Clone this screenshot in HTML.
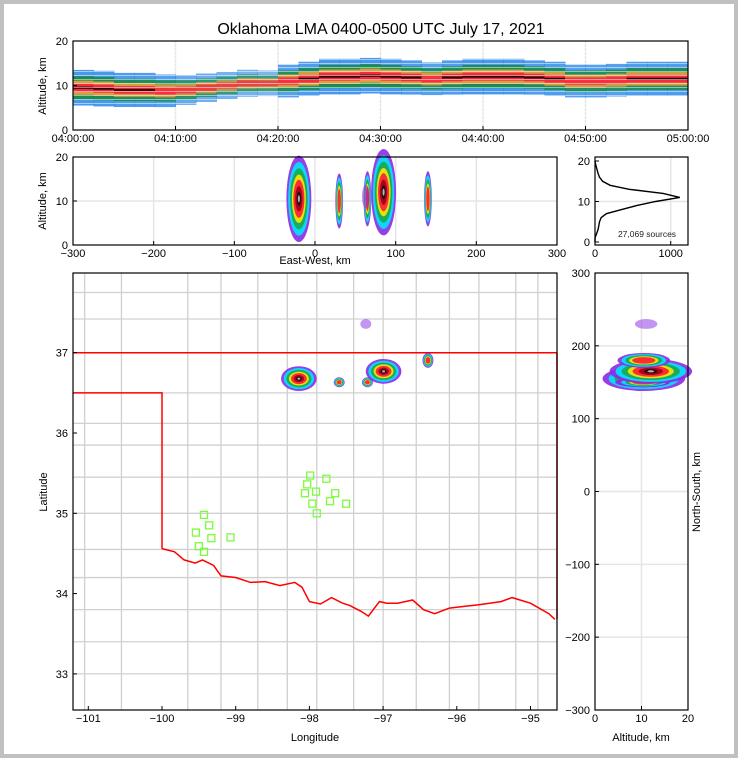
<!DOCTYPE html>
<html><head><meta charset="utf-8"><style>
html,body{margin:0;padding:0;background:#c0c0c0;}
#wrap{position:absolute;left:4px;top:4px;width:730px;height:750px;background:#fff;}
svg{position:absolute;left:0;top:0;font-family:"Liberation Sans","DejaVu Sans",sans-serif;}
</style></head><body>
<div id="wrap"></div>
<svg id="fig" width="738" height="758">
<defs>
<pattern id="dash" width="6" height="4" patternUnits="userSpaceOnUse"><rect x="0" y="3" width="6" height="1" fill="#fff" opacity="0.5"/></pattern>
</defs>
<text x="381" y="34" font-size="16" text-anchor="middle" fill="#000">Oklahoma LMA 0400-0500 UTC July 17, 2021</text>
</svg>
<script>
// ---------- data ----------
const timeMinutes = [0,2,4,6,8,10,12,14,16,18,20,22,24,26,28,30,32,34,36,38,40,42,44,46,48,50,52,54,56,58];
const medianAlt   = [9.5,9.3,9.0,9.0,8.8,9.0,9.5,10,10.5,10.5,11,11.5,12,12,12.2,12,11.8,11.5,11.8,12,12,12,11.8,11.5,11,11,11.2,11.5,11.5,11.5];
const activity    = [1,1,0.9,0.9,0.8,0.6,0.5,0.4,0.4,0.3,0.8,0.9,1,1,1,1,0.9,0.8,0.9,1,1,1,0.9,0.9,0.8,0.8,0.8,0.9,0.9,0.9];
const timeTickLabels = ["04:00:00","04:10:00","04:20:00","04:30:00","04:40:00","04:50:00","05:00:00"];
const histAlt    = [0,1,2,3,4,5,6,7,8,9,10,11,12,13,14,15,16,17,18,19,20];
const histCounts = [0,0,20,40,50,60,80,150,350,550,800,1120,900,450,200,100,60,40,25,10,0];
const stormEW  = [-20,30,65,85,140,63];
const stormNS  = [155,150,150,165,180,230];
const stormAlt = [10.5,10,10.5,12,10.5,11];
const stormSX  = [13,4,4,13,4,4];
const stormSY  = [10,4,4,10,6,4];
const stormSA  = [5.5,3.5,3.5,5.5,3.5,1.5];
const stormW   = [1,0.35,0.35,1,0.3,0.05];
const stationLon = [-99.43,-99.36,-99.54,-99.33,-99.50,-99.43,-99.07,-97.99,-98.03,-97.77,-98.06,-97.91,-97.65,-97.96,-97.72,-97.50,-97.90];
const stationLat = [34.98,34.85,34.76,34.69,34.59,34.52,34.70,35.47,35.36,35.43,35.25,35.27,35.25,35.12,35.15,35.12,35.00];
const redRiverLon = [-100,-99.83,-99.7,-99.55,-99.45,-99.3,-99.2,-99.0,-98.8,-98.6,-98.4,-98.2,-98.1,-98.0,-97.85,-97.7,-97.55,-97.45,-97.3,-97.2,-97.05,-96.95,-96.8,-96.6,-96.45,-96.3,-96.1,-95.9,-95.7,-95.4,-95.25,-95.0,-94.75,-94.67];
const redRiverLat = [34.56,34.52,34.42,34.38,34.42,34.35,34.22,34.20,34.14,34.15,34.10,34.14,34.08,33.90,33.87,33.95,33.88,33.85,33.78,33.72,33.90,33.88,33.88,33.92,33.80,33.75,33.82,33.84,33.86,33.90,33.95,33.88,33.75,33.68];
const ewTicks=[-300,-200,-100,0,100,200,300], altTicks=[0,10,20], nsTicks=[-300,-200,-100,0,100,200,300];
const lonTicks=[-101,-100,-99,-98,-97,-96,-95], latTicks=[33,34,35,36,37];

// ---------- scales ----------
const NS="http://www.w3.org/2000/svg", fig=document.getElementById('fig');
function el(tag,attrs,parent){const e=document.createElementNS(NS,tag);for(const k in attrs)e.setAttribute(k,attrs[k]);(parent||fig).appendChild(e);return e;}
const tX=m=>73+m/60*615, tY=a=>130-a/20*89;
const ewX=k=>73+(k+300)/600*484, mAltY=a=>245-a/20*88;
const hX=c=>595+c*0.0757, hY=a=>242-a/20*81;
const lonX=l=>162+(l+100)*73.7, latY=l=>352.7-(l-37)*80.3;
const nsY=k=>710-(k+300)/600*437, rAltX=a=>595+a/20*93;
const C='#000';
function text(x,y,s,opts,name){const t=el('text',Object.assign({x:x,y:y,'font-size':11,fill:C},opts||{}));t.textContent=s;

return t;}
function box(x1,y1,x2,y2,name){const r=el('rect',{x:x1,y:y1,width:x2-x1,height:y2-y1,fill:'none',stroke:'#000','stroke-width':1.2});

}
function grid(x1,y1,x2,y2){el('line',{x1:x1,y1:y1,x2:x2,y2:y2,stroke:'#e6e6e6','stroke-width':1.5});}
function tick(x1,y1,x2,y2){el('line',{x1:x1,y1:y1,x2:x2,y2:y2,stroke:'#000','stroke-width':1});}

// ---------- top time-height panel ----------
for(let i=1;i<6;i++)grid(tX(i*10),41,tX(i*10),130);
grid(73,tY(10),688,tY(10));
const layers=[['#1a80e6',4.0,0.8],['#138a3a',2.6,0.85],['#f2a03c',1.6,0.9],['#ff1a3c',0.9,0.9],['#000',0.25,0.85]];
timeMinutes.forEach((m,i)=>{
  layers.forEach(([col,s,op],j)=>{
    if(j==4&&activity[i]<0.9)return;
    const sp=s*(0.6+0.4*activity[i]);
    const r=el('rect',{x:tX(m),y:tY(medianAlt[i]+sp),width:tX(2)-tX(0)+0.5,height:tY(0)-tY(2*sp),fill:col,opacity:op*(0.6+0.4*activity[i])});
    
    
  });
});
el('rect',{x:73,y:41,width:615,height:89,fill:'url(#dash)'});
box(73,41,688,130,'time-height-axes');
timeTickLabels.forEach((s,i)=>{const x=tX(i*10);tick(x,130,x,126);text(x,142,s,{'text-anchor':'middle'},'time-tick-label');});
altTicks.forEach(a=>{tick(73,tY(a),77,tY(a));text(68,tY(a)+4,a,{'text-anchor':'end'},'alt-tick-label');});
text(46,86,'Altitude, km',{'text-anchor':'middle',transform:'rotate(-90 46 86)'},'top-y-axis-title');

// ---------- blob drawing ----------
const levels=[['#8a2be2',1.7,0],['#00e5ff',1.45,0.1],['#19a84a',1.2,0.1],['#ffe600',0.95,0.3],['#ff1a3c',0.75,0.3],['#a0001a',0.5,0.9],['#111',0.28,0.9],['#c8c8c8',0.14,0.9]];
function blob(cx,cy,rx,ry,w,name){
  levels.forEach(([col,s,minW])=>{
    if(w<minW)return;
    const e=el('ellipse',{cx:cx,cy:cy,rx:Math.max(1,rx*s),ry:Math.max(1,ry*s),fill:col,opacity:w<0.1?0.5:0.9});
    
    
  });
}

// ---------- middle EW-alt panel ----------
ewTicks.slice(1,-1).forEach(k=>grid(ewX(k),157,ewX(k),245));
grid(73,mAltY(10),557,mAltY(10));
stormEW.forEach((k,i)=>blob(ewX(k),mAltY(stormAlt[i]),stormSX[i]*0.807*0.7,stormSA[i]*4.4*1.05,stormW[i],'ew-alt-storm'));
box(73,157,557,245,'ew-alt-axes');
ewTicks.forEach(k=>{tick(ewX(k),245,ewX(k),241);text(ewX(k),257,String(k).replace('-','−'),{'text-anchor':'middle'},'ew-tick-label');});
altTicks.forEach(a=>{tick(73,mAltY(a),77,mAltY(a));text(68,mAltY(a)+4,a,{'text-anchor':'end'},'alt-tick-label');});
text(46,201,'Altitude, km',{'text-anchor':'middle',transform:'rotate(-90 46 201)'},'mid-y-axis-title');
text(315,264,'East-West, km',{'text-anchor':'middle'},'ew-axis-title');

// ---------- histogram panel ----------
grid(595,hY(10),688,hY(10));grid(hX(1000),157,hX(1000),245);
const hp=el('path',{d:histAlt.map((a,i)=>(i?'L':'M')+hX(histCounts[i]).toFixed(1)+' '+hY(a).toFixed(1)).join(' '),fill:'none',stroke:'#000','stroke-width':1.4});


box(595,157,688,245,'histogram-axes');
[0,1000].forEach(c=>{tick(hX(c),245,hX(c),241);text(hX(c),257,c,{'text-anchor':'middle'},'count-tick-label');});
altTicks.forEach(a=>{tick(595,hY(a),599,hY(a));text(590,hY(a)+4,a,{'text-anchor':'end'},'alt-tick-label');});
text(647,237,'27,069 sources',{'text-anchor':'middle','font-size':8.5,fill:'#222'},'source-count-label');

// ---------- map panel ----------
const cg='#d0d0d0';
const hLines=[37.75,37.42,36.5,36.12,35.85,35.45,35.0,34.55,34.2,33.8,33.4,33.0];
hLines.forEach(l=>el('line',{x1:73,y1:latY(l),x2:557,y2:latY(l),stroke:cg,'stroke-width':1.3}));
const vLines=[-101.05,-100.55,-99.65,-99.2,-98.7,-98.3,-97.9,-97.4,-97.0,-96.55,-96.1,-95.7,-95.2,-94.9];
vLines.forEach(l=>el('line',{x1:lonX(l),y1:273,x2:lonX(l),y2:710,stroke:cg,'stroke-width':1.3}));
const rr=redRiverLon.map((l,i)=>(i?'L':'M')+lonX(l).toFixed(1)+' '+latY(redRiverLat[i]).toFixed(1)).join(' ');
const border=el('path',{d:'M73 '+latY(36.5)+' L'+lonX(-100)+' '+latY(36.5)+' L'+lonX(-100)+' '+latY(34.56)+' '+rr.replace(/^M/,'L')+' M73 '+latY(37)+' L557 '+latY(37),fill:'none',stroke:'#ff0000','stroke-width':1.5});


el('line',{x1:557,y1:latY(37),x2:557,y2:latY(33.68),stroke:'#ff0000','stroke-width':1.5});
stormEW.forEach((k,i)=>blob(ewX(k),nsY(stormNS[i]),stormSX[i]*0.807,stormSY[i]*0.728,stormW[i],'map-storm'));
stationLon.forEach((l,i)=>{const r=el('rect',{x:lonX(l)-3.5,y:latY(stationLat[i])-3.5,width:7,height:7,fill:'none',stroke:'#7cfc3c','stroke-width':1.3});

});
box(73,273,557,710,'map-axes');
lonTicks.forEach(l=>{tick(lonX(l),710,lonX(l),706);text(lonX(l),722,String(l).replace('-','−'),{'text-anchor':'middle'},'lon-tick-label');});
latTicks.forEach(l=>{tick(73,latY(l),77,latY(l));text(68,latY(l)+4,l,{'text-anchor':'end'},'lat-tick-label');});
text(315,741,'Longitude',{'text-anchor':'middle'},'x-axis-title');
text(47,492,'Latitude',{'text-anchor':'middle',transform:'rotate(-90 47 492)'},'y-axis-title');

// ---------- right alt-NS panel ----------
nsTicks.slice(1,-1).forEach(k=>grid(595,nsY(k),688,nsY(k)));
grid(rAltX(10),273,rAltX(10),710);
stormNS.forEach((k,i)=>blob(rAltX(stormAlt[i]),nsY(k),stormSA[i]*4.65*0.95,stormSY[i]*0.728,stormW[i],'alt-ns-storm'));
box(595,273,688,710,'alt-ns-axes');
nsTicks.forEach(k=>{tick(595,nsY(k),599,nsY(k));text(590,nsY(k)+4,String(k).replace('-','−'),{'text-anchor':'end'},'ns-tick-label');});
altTicks.forEach(a=>{tick(rAltX(a),710,rAltX(a),706);text(rAltX(a),722,a,{'text-anchor':'middle'},'alt-tick-label');});
text(641,741,'Altitude, km',{'text-anchor':'middle'},'right-x-axis-title');
text(700,492,'North-South, km',{'text-anchor':'middle',transform:'rotate(-90 700 492)'},'ns-axis-title');
</script>
</body></html>
